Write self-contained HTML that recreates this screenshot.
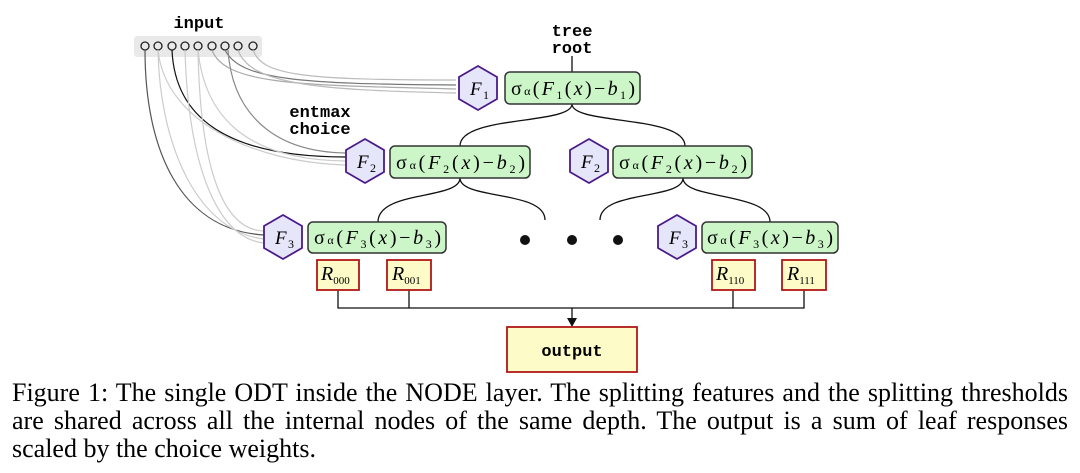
<!DOCTYPE html>
<html><head><meta charset="utf-8"><style>
body{margin:0;background:#fff;width:1080px;height:473px;overflow:hidden}
.cap{position:absolute;left:12px;top:379px;font:26px/28px "Liberation Serif",serif;color:#000;width:1056px}
.cap div{white-space:nowrap}
.j{text-align:justify;text-align-last:justify}
</style></head><body>
<svg width="1080" height="380" style="position:absolute;left:0;top:0" font-family="Liberation Serif, serif">
<defs>
<polygon id="hex" points="0,-22 19,-11 19,11 0,22 -19,11 -19,-11" fill="#e6e6fb" stroke="#4b1b8a" stroke-width="1.8"/>
</defs>
<text x="199" y="28" font-family="Liberation Mono, monospace" font-weight="bold" font-size="17" text-anchor="middle">input</text>
<rect x="134" y="36" width="128" height="21" rx="3" fill="#e9e9e9"/>
<g fill="none" stroke="#222" stroke-width="1.3">
<circle cx="145" cy="46" r="4"/><circle cx="158" cy="46" r="4"/><circle cx="172" cy="46" r="4"/><circle cx="185" cy="46" r="4"/><circle cx="198" cy="46" r="4"/><circle cx="212" cy="46" r="4"/><circle cx="225" cy="46" r="4"/><circle cx="238" cy="46" r="4"/><circle cx="253" cy="46" r="4"/>
</g>
<text x="572" y="36" font-family="Liberation Mono, monospace" font-weight="bold" font-size="17" text-anchor="middle">tree</text>
<text x="572" y="53" font-family="Liberation Mono, monospace" font-weight="bold" font-size="17" text-anchor="middle">root</text>
<text x="320" y="117" font-family="Liberation Mono, monospace" font-weight="bold" font-size="17" text-anchor="middle">entmax</text>
<text x="320" y="134" font-family="Liberation Mono, monospace" font-weight="bold" font-size="17" text-anchor="middle">choice</text>
<g fill="none" stroke-width="1.2">
<path d="M253,50 C262,75 300,80 456,80" stroke="#bbb"/>
<path d="M212,50 C225,85 300,85 456,89" stroke="#aaa"/>
<path d="M225,50 C240,80 300,84 456,85" stroke="#777"/>
<path d="M238,50 C250,85 320,90 456,93" stroke="#bbb"/>
<path d="M172,50 C175,120 230,157 346,157" stroke="#111"/>
<path d="M228,50 C232,110 270,152 346,153" stroke="#888"/>
<path d="M198,50 C205,120 250,160 346,161" stroke="#ccc"/>
<path d="M158,50 C165,120 250,162 346,165" stroke="#ccc"/>
<path d="M145,50 C145,150 180,230 264,235" stroke="#555"/>
<path d="M158,50 C160,150 200,232 264,239" stroke="#ccc"/>
<path d="M198,50 C200,160 220,230 264,231" stroke="#ccc"/>
<path d="M185,50 C188,160 215,238 264,243" stroke="#ccc"/>
</g>
<g fill="none" stroke="#111" stroke-width="1.3">
<line x1="572" y1="56" x2="572" y2="72"/>
<path d="M572,104 C572,125 460,115 460,146"/>
<path d="M572,104 C572,125 685,115 685,146"/>
<path d="M460,178 C460,200 378,190 378,222"/>
<path d="M460,178 C460,200 545,190 545,220"/>
<path d="M683,178 C683,200 600,190 600,220"/>
<path d="M683,178 C683,200 770,192 770,222"/>
<path d="M338,290 V308 H804 V290 M409,290 V308 M733,290 V308"/>
<line x1="572" y1="308" x2="572" y2="320"/>
</g>
<polygon points="567,318 577,318 572,327" fill="#111"/>
<g font-size="19" font-style="italic">
<use href="#hex" x="478" y="88"/><text x="470" y="95">F</text><text x="483" y="99" font-size="12" font-style="normal">1</text>
<use href="#hex" x="365" y="161"/><text x="357" y="168">F</text><text x="370" y="172" font-size="12" font-style="normal">2</text>
<use href="#hex" x="589" y="161"/><text x="581" y="168">F</text><text x="594" y="172" font-size="12" font-style="normal">2</text>
<use href="#hex" x="283" y="237"/><text x="275" y="244">F</text><text x="288" y="248" font-size="12" font-style="normal">3</text>
<use href="#hex" x="677" y="237"/><text x="669" y="244">F</text><text x="682" y="248" font-size="12" font-style="normal">3</text>
</g>
<g fill="#ccf5c8" stroke="#333" stroke-width="1.5">
<rect x="505" y="72" width="135" height="32" rx="5"/>
<rect x="390" y="146" width="140" height="32" rx="5"/>
<rect x="613" y="146" width="139" height="32" rx="5"/>
<rect x="308" y="222" width="138" height="31" rx="5"/>
<rect x="702" y="222" width="136" height="31" rx="5"/>
</g>
<g font-size="20">
<text x="511" y="95" textLength="124" lengthAdjust="spacing">σ<tspan font-size="12">α</tspan>(<tspan font-style="italic">F</tspan><tspan font-size="12" dy="4">1</tspan><tspan dy="-4">(</tspan><tspan font-style="italic">x</tspan>)−<tspan font-style="italic">b</tspan><tspan font-size="12" dy="4">1</tspan><tspan dy="-4">)</tspan></text>
<text x="396" y="169" textLength="129" lengthAdjust="spacing">σ<tspan font-size="12">α</tspan>(<tspan font-style="italic">F</tspan><tspan font-size="12" dy="4">2</tspan><tspan dy="-4">(</tspan><tspan font-style="italic">x</tspan>)−<tspan font-style="italic">b</tspan><tspan font-size="12" dy="4">2</tspan><tspan dy="-4">)</tspan></text>
<text x="619" y="169" textLength="128" lengthAdjust="spacing">σ<tspan font-size="12">α</tspan>(<tspan font-style="italic">F</tspan><tspan font-size="12" dy="4">2</tspan><tspan dy="-4">(</tspan><tspan font-style="italic">x</tspan>)−<tspan font-style="italic">b</tspan><tspan font-size="12" dy="4">2</tspan><tspan dy="-4">)</tspan></text>
<text x="314" y="244" textLength="127" lengthAdjust="spacing">σ<tspan font-size="12">α</tspan>(<tspan font-style="italic">F</tspan><tspan font-size="12" dy="4">3</tspan><tspan dy="-4">(</tspan><tspan font-style="italic">x</tspan>)−<tspan font-style="italic">b</tspan><tspan font-size="12" dy="4">3</tspan><tspan dy="-4">)</tspan></text>
<text x="707" y="244" textLength="126" lengthAdjust="spacing">σ<tspan font-size="12">α</tspan>(<tspan font-style="italic">F</tspan><tspan font-size="12" dy="4">3</tspan><tspan dy="-4">(</tspan><tspan font-style="italic">x</tspan>)−<tspan font-style="italic">b</tspan><tspan font-size="12" dy="4">3</tspan><tspan dy="-4">)</tspan></text>
</g>
<g fill="#111"><circle cx="525" cy="240" r="5"/><circle cx="572" cy="240" r="5"/><circle cx="618" cy="240" r="5"/></g>
<g fill="#fdfcc8" stroke="#b01818" stroke-width="1.8">
<rect x="317" y="260" width="42" height="30"/><rect x="387" y="260" width="44" height="30"/>
<rect x="712" y="260" width="43" height="30"/><rect x="782" y="260" width="44" height="30"/>
<rect x="507" y="327" width="130" height="45"/>
</g>
<g font-size="20"><text x="321" y="280"><tspan font-style="italic">R</tspan><tspan font-size="11" dy="4">000</tspan></text>
<text x="392" y="280"><tspan font-style="italic">R</tspan><tspan font-size="11" dy="4">001</tspan></text>
<text x="716" y="280"><tspan font-style="italic">R</tspan><tspan font-size="11" dy="4">110</tspan></text>
<text x="787" y="280"><tspan font-style="italic">R</tspan><tspan font-size="11" dy="4">111</tspan></text></g>
<text x="572" y="356" font-family="Liberation Mono, monospace" font-weight="bold" font-size="17" text-anchor="middle">output</text>
</svg>
<div class="cap">
<div class="j">Figure 1: The single ODT inside the NODE layer. The splitting features and the splitting thresholds</div>
<div class="j">are shared across all the internal nodes of the same depth. The output is a sum of leaf responses</div>
<div>scaled by the choice weights.</div>
</div>
</body></html>
